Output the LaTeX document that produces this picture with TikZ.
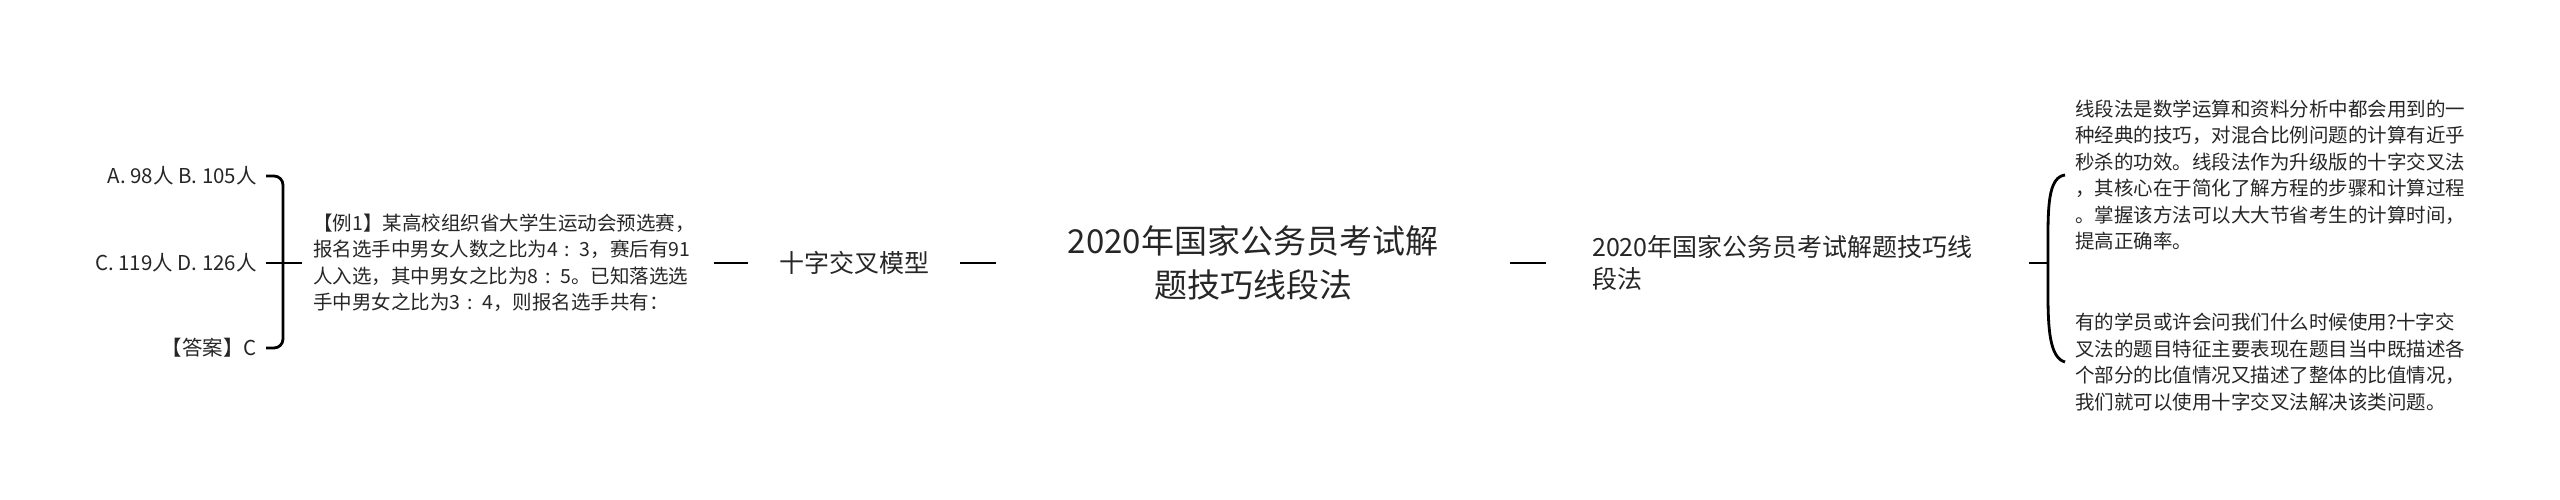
\documentclass[tikz,border=0pt]{standalone}
\usepackage{fontspec}
\setmainfont{Noto Sans CJK SC}
\definecolor{txt}{HTML}{262626}
\begin{document}
\begin{tikzpicture}[x=1pt,y=-1pt,
  every node/.style={inner sep=0pt, text=txt},
  small/.style={font=\fontsize{19.5}{26.5}\selectfont},
  opt/.style={font=\fontsize{20.5}{26.5}\selectfont},
  mid/.style={font=\fontsize{25}{32}\selectfont},
  big/.style={font=\fontsize{33}{44}\selectfont},
  link/.style={line width=2.8pt, draw=black}]
\useasboundingbox (0,0) rectangle (2560,500);

\node[opt, inner xsep=9pt, anchor=east] (o1) at (266,176) {A. 98人 B. 105人};
\node[opt, inner xsep=9pt, anchor=east] (o2) at (266,263) {C. 119人 D. 126人};
\node[opt, inner xsep=9pt, anchor=east] (o3) at (266,348) {【答案】C};
\node[small, inner xsep=11pt, anchor=west, text width=390pt, align=left] (ex) at (302,263)
  {【例1】某高校组织省大学生运动会预选赛，\\报名选手中男女人数之比为4 : 3，赛后有91\\人入选，其中男女之比为8 : 5。已知落选选\\手中男女之比为3 : 4，则报名选手共有：};
\node[mid, inner xsep=31pt] (md) at (854,263) {十字交叉模型};
\node[big, text width=514pt, align=center] (ct) at (1253,263) {2020年国家公务员考试解\\题技巧线段法};
\node[mid, inner xsep=46pt, anchor=west, text width=391pt, align=left] (mr) at (1546,263)
  {2020年国家公务员考试解题技巧线\\段法};
\node[small, inner xsep=10pt, anchor=west, text width=420pt, align=left] (t1) at (2065,175)
  {线段法是数学运算和资料分析中都会用到的一\\种经典的技巧，对混合比例问题的计算有近乎\\秒杀的功效。线段法作为升级版的十字交叉法\\，其核心在于简化了解方程的步骤和计算过程\\。掌握该方法可以大大节省考生的计算时间，\\提高正确率。};
\node[small, inner xsep=10pt, anchor=west, text width=420pt, align=left] (t2) at (2065,362)
  {有的学员或许会问我们什么时候使用?十字交\\叉法的题目特征主要表现在题目当中既描述各\\个部分的比值情况又描述了整体的比值情况，\\我们就可以使用十字交叉法解决该类问题。};

\draw[link] (o2.east) -- (ex.west);
\coordinate (lb) at (283,263);
\draw[link, rounded corners=9pt] (o1.east) -| (lb) |- (o3.east);
\draw[link] (ex.east) -- (md.west);
\draw[link] (md.east) -- (ct.west);
\draw[link] (ct.east) -- (mr.west);
\coordinate (rb) at (2048,263);
\draw[link] (mr.east) -- (rb);
\draw[link] (t1.west) .. controls (2050,177) and (2048,200) .. (2048,235) -- (2048,295) .. controls (2048,330) and (2050,358) .. (t2.west);
\end{tikzpicture}
\end{document}
